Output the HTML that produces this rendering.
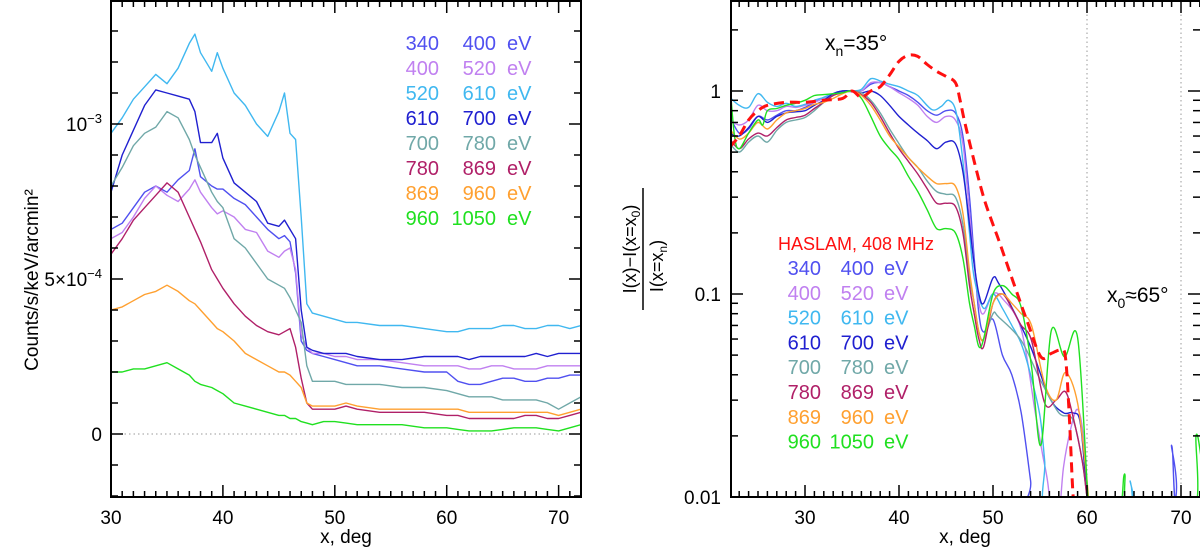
<!DOCTYPE html>
<html><head><meta charset="utf-8">
<style>
html,body{margin:0;padding:0;background:#fff;width:1200px;height:551px;overflow:hidden;position:relative;}
svg{display:block;font-family:"Liberation Sans",sans-serif;}
</style></head>
<body>
<svg id="fig" width="1200" height="551" viewBox="0 0 1200 551" style="position:absolute;left:0;top:0;overflow:hidden;">
<defs>
<clipPath id="clipL"><rect x="111" y="1" width="470" height="496"/></clipPath>
<clipPath id="clipR"><rect x="731" y="1" width="469" height="496"/></clipPath>
</defs>
<g id="left"></g>
<g id="right"></g>
<g>
  <text x="825" y="50" font-size="21" fill="#000">x<tspan font-size="14" dy="6">n</tspan><tspan dy="-6">=35°</tspan></text>
</g>
<g>
  <text x="1107" y="302" font-size="21" fill="#000">x<tspan font-size="14" dy="6">0</tspan><tspan dy="-6">≈65°</tspan></text>
</g>
<g>
  <text transform="translate(636,249) rotate(-90)" text-anchor="middle" font-size="18" fill="#000">I(x)−I(x=x<tspan font-size="12" dy="4">0</tspan><tspan dy="-4">)</tspan></text>
  <line x1="643" y1="188" x2="643" y2="310" stroke="#000" stroke-width="1.5"/>
  <text transform="translate(663,266) rotate(-90)" text-anchor="middle" font-size="18" fill="#000">I(x=x<tspan font-size="12" dy="4">n</tspan><tspan dy="-4">)</tspan></text>
</g>
</svg>
<script>
// ---------- LEFT PANEL DATA (units of 1e-4 counts/s/keV/arcmin^2) ----------
const bandLabels = [["340","400"],["400","520"],["520","610"],["610","700"],["700","780"],["780","869"],["869","960"],["960","1050"]];
const bandColors = ["#5050f0","#c080f0","#40b8f0","#2020d0","#70a8a8","#b02068","#ffa030","#20e020"];
const leftX = [30,31,32,33,34,35,36,37,37.5,38,39,39.5,40,41,42,43,44,45,45.5,46,46.5,47,47.5,48,49,50,51,52,54,56,58,60,61,62,63,64,65,66,67,68,69,70,71,72];
const L340 = [6.6,6.8,7.3,7.8,8.0,7.8,8.2,8.5,9.2,8.3,8.0,7.9,7.9,7.6,7.4,7.0,6.6,6.3,6.4,6.2,5.2,3.0,2.7,2.6,2.5,2.4,2.3,2.2,2.2,2.1,2.0,2.0,1.7,1.6,1.6,1.7,1.8,1.8,1.7,1.7,1.8,1.8,1.9,1.9];
const L400 = [6.3,6.5,7.0,7.6,8.0,7.7,7.5,7.9,8.2,7.8,7.3,7.1,7.2,7.0,6.6,6.5,5.9,5.7,5.9,6.0,5.3,3.2,2.8,2.6,2.6,2.5,2.5,2.4,2.4,2.3,2.2,2.2,2.2,2.1,2.1,2.2,2.2,2.1,2.1,2.1,2.2,2.2,2.2,2.2];
const L520 = [9.7,10.2,10.8,11.2,11.6,11.3,11.8,12.6,12.9,12.3,11.7,12.3,11.8,11.0,10.6,10.0,9.6,10.4,11.0,9.7,9.5,7.0,4.2,3.9,3.8,3.7,3.6,3.6,3.5,3.5,3.4,3.3,3.3,3.4,3.4,3.4,3.5,3.5,3.4,3.4,3.5,3.5,3.4,3.5];
const L610 = [7.8,9.0,9.8,10.6,11.1,11.0,10.9,10.8,10.4,9.4,9.4,9.7,8.9,8.1,7.8,7.5,6.8,6.7,6.9,6.6,6.3,4.0,2.8,2.7,2.6,2.6,2.6,2.5,2.4,2.4,2.5,2.5,2.5,2.4,2.5,2.5,2.5,2.5,2.5,2.6,2.5,2.6,2.6,2.6];
const L700 = [8.0,8.6,9.3,9.7,9.9,10.4,10.2,9.5,9.0,8.6,7.8,7.5,7.3,6.3,6.0,5.5,5.0,4.8,4.7,4.4,4.0,3.6,2.2,1.7,1.7,1.7,1.6,1.6,1.6,1.5,1.5,1.4,1.3,1.2,1.2,1.2,1.1,1.1,1.1,1.1,1.0,0.8,1.0,1.2];
const L780 = [5.8,6.3,6.9,7.3,7.7,8.1,7.8,7.0,6.6,6.2,5.3,5.0,4.7,4.2,3.8,3.5,3.3,3.2,3.3,3.4,2.8,1.8,1.0,0.8,0.8,0.8,0.9,0.8,0.7,0.7,0.7,0.6,0.6,0.5,0.5,0.5,0.5,0.5,0.6,0.6,0.5,0.5,0.6,0.7];
const L869 = [4.0,4.1,4.3,4.5,4.6,4.8,4.6,4.3,4.2,4.0,3.6,3.4,3.3,3.0,2.6,2.4,2.2,2.0,2.0,1.9,1.7,1.5,1.0,0.9,0.9,0.9,1.0,0.9,0.8,0.8,0.8,0.8,0.8,0.7,0.7,0.7,0.7,0.7,0.7,0.7,0.7,0.6,0.7,0.8];
const L960 = [2.0,2.0,2.1,2.1,2.2,2.3,2.1,1.9,1.7,1.6,1.5,1.4,1.3,1.0,0.9,0.8,0.7,0.6,0.6,0.5,0.5,0.4,0.35,0.3,0.4,0.4,0.35,0.3,0.3,0.3,0.2,0.2,0.15,0.1,0.1,0.1,0.15,0.2,0.2,0.2,0.15,0.1,0.2,0.3];
const leftXTicks = [30,40,50,60,70];
const leftYTickVals = [0,5,10];
const leftYTickText = ["0","5×10","10"];
const leftYTickExp = ["","−4","−3"];

// ---------- RIGHT PANEL DATA (normalised ratio, log scale) ----------
const R340x = [22,23,24,25,26,27,28,29,30,31,32,33,34,35,36,37,38,39,40,41,42,43,44,45,46,46.8,47.5,48,48.5,49,50,51,52,53,54,54.5,68.3,69,69.6,71.8,72.2];
const R340y = [0.75,0.62,0.65,0.75,0.72,0.76,0.8,0.8,0.83,0.88,0.93,0.97,1.0,1.0,1.0,1.08,1.1,1.05,1.0,0.95,0.88,0.8,0.76,0.8,0.78,0.6,0.3,0.15,0.08,0.065,0.075,0.05,0.04,0.026,0.012,0.004,0.004,0.018,0.004,0.004,0.02];
const R400x = [22,23,24,25,26,27,28,29,30,31,32,33,34,35,36,37,38,39,40,41,42,43,44,45,46,46.8,47.5,48,48.5,49,50,51,53,54.5,55.3,55.8,56.3,57,57.5,58.3,59,59.6,60.2];
const R400y = [0.72,0.68,0.72,0.85,0.8,0.8,0.84,0.83,0.85,0.88,0.92,0.97,1.0,0.99,1.0,1.1,1.1,1.05,0.98,0.92,0.85,0.75,0.7,0.75,0.72,0.55,0.25,0.14,0.09,0.08,0.1,0.095,0.067,0.026,0.016,0.012,0.004,0.008,0.014,0.022,0.027,0.02,0.004];
const R520x = [22,23,24,25,26,27,28,29,30,31,32,33,35,36,37,38,39,40,41,42,43.5,44.5,45.3,46.1,46.8,47.5,48,49,50,51,52,53,54,55,55.5,56,64.3,64.6,65];
const R520y = [0.93,0.85,0.83,0.97,0.88,0.84,0.87,0.84,0.86,0.9,0.93,0.97,1.0,1.02,1.15,1.12,1.08,1.05,1.0,0.95,0.81,0.84,0.9,0.78,0.45,0.2,0.12,0.085,0.1,0.085,0.07,0.057,0.04,0.025,0.015,0.004,0.004,0.012,0.004];
const R610x = [22,23,24,25,26,27,28,29,30,31,32,33,34,35,36,37,38,39,40,41,42,43,44,45,46,46.8,47.5,48,48.5,49,50,50.6,52,54,56,57.5,58.5,59.3,60,60.3];
const R610y = [0.62,0.6,0.66,0.75,0.7,0.75,0.78,0.79,0.8,0.85,0.9,0.97,1.0,1.0,0.98,1.0,0.95,0.85,0.75,0.68,0.62,0.57,0.52,0.56,0.55,0.4,0.22,0.14,0.1,0.09,0.12,0.113,0.086,0.055,0.031,0.026,0.026,0.023,0.01,0.004];
const R700x = [22,23,24,25,26,27,28,29,30,31,32,33,34,35,36,37,38,39,40,41,42,43,44,45,46,46.8,47.5,48,48.5,49,50,50.6,53,55,57,58.5,59.5,60,60.3];
const R700y = [0.55,0.5,0.56,0.6,0.56,0.64,0.7,0.72,0.74,0.8,0.88,0.95,0.98,1.0,0.98,0.9,0.78,0.65,0.55,0.47,0.42,0.36,0.32,0.31,0.3,0.22,0.12,0.09,0.065,0.06,0.08,0.077,0.059,0.038,0.026,0.024,0.015,0.01,0.004];
const R780x = [22,23,24,25,26,27,28,29,30,31,32,33,34,35,36,37,38,39,40,41,42,43,44,45,46,46.8,47.5,48,48.5,49,50,51,52,53,54.1,55.5,56.7,57.7,58.5,59.5,60,60.3];
const R780y = [0.58,0.52,0.58,0.62,0.6,0.66,0.72,0.74,0.76,0.82,0.88,0.95,0.98,1.0,0.96,0.88,0.75,0.62,0.52,0.45,0.39,0.33,0.28,0.28,0.27,0.2,0.11,0.08,0.06,0.055,0.09,0.1,0.085,0.07,0.059,0.029,0.03,0.033,0.025,0.015,0.01,0.004];
const R869x = [22,23,24,25,26,27,28,29,30,31,32,33,34,35,36,37,38,39,40,41,42,43,44,45,46,46.8,47.5,48,48.5,49,50,51,52,53,54.1,55.5,56.7,57.7,59,60,60.3];
const R869y = [0.65,0.58,0.62,0.7,0.65,0.72,0.78,0.8,0.82,0.86,0.88,0.92,0.97,1.0,0.95,0.85,0.72,0.6,0.53,0.47,0.42,0.38,0.35,0.35,0.34,0.25,0.13,0.09,0.065,0.06,0.09,0.1,0.09,0.08,0.07,0.036,0.03,0.041,0.029,0.012,0.004];
const R960x = [22,22.5,23,24,25,25.5,26,27,28,29,30,31,32,33,34,35,36,37,38,39,40,41,42,43,44,45,46,46.8,47.5,48,48.5,49,50,51,52,53,54.1,55.1,56.2,57.6,59,60.1,60.4,63.3,64,64.7,71.2,71.6,72.2];
const R960y = [1.1,0.6,0.52,0.62,0.72,0.68,0.8,0.82,0.85,0.87,0.9,0.95,0.96,0.97,0.98,1.0,0.92,0.75,0.6,0.52,0.46,0.38,0.32,0.26,0.21,0.21,0.2,0.15,0.09,0.07,0.055,0.06,0.1,0.11,0.1,0.086,0.044,0.018,0.066,0.049,0.061,0.01,0.004,0.004,0.013,0.004,0.004,0.02,0.015];
const HASx = [22,23,24,25,26,28,30,32,34,35,36,37,38,39,40,41,42,43,44,45,46,46.5,47,48,49,50,50.6,51.5,52.7,53.7,55.1,56.2,57.2,57.7,58.1,58.5,58.8];
const HASy = [0.53,0.6,0.72,0.8,0.85,0.88,0.88,0.9,0.92,1.0,0.93,1.0,1.05,1.2,1.4,1.5,1.48,1.35,1.25,1.18,1.1,0.9,0.7,0.45,0.3,0.22,0.185,0.14,0.097,0.072,0.049,0.051,0.053,0.049,0.026,0.0105,0.006];
const rightXTicks = [30,40,50,60,70];
const rightYMajor = [0.01,0.1,1];
const rightYMajorText = ["0.01","0.1","1"];

// ---------- helpers ----------
const NS = "http://www.w3.org/2000/svg";
function mk(tag, attrs, parent){ const e=document.createElementNS(NS,tag); for(const k in attrs) e.setAttribute(k,attrs[k]); parent.appendChild(e); return e; }
const gL = document.getElementById('left'), gR = document.getElementById('right');

const LX0=111, LX1=581, LY0=1, LY1=497;
const lx = d => LX0 + (d-30)*(LX1-LX0)/42;
const ly = v => 434 - v*31;
const RX0=731, RX1=1200, RY0=1, RY1=497;
const rx = d => 805 + (d-30)*9.4;
const ry = v => 91 - 203*Math.log10(v);

// ======== LEFT PANEL ========
const zl = mk('line',{x1:LX0,x2:LX1,y1:ly(0),y2:ly(0),stroke:'#999','stroke-width':1,'stroke-dasharray':'1.5,3'},gL);


const lseries = [L340,L400,L520,L610,L700,L780,L869,L960];
const lc = mk('g',{'clip-path':'url(#clipL)'},gL);
lseries.forEach((s,i)=>{
  const p = mk('polyline',{points:s.map((v,j)=>lx(leftX[j]).toFixed(1)+','+ly(v).toFixed(1)).join(' '),fill:'none',stroke:bandColors[i],'stroke-width':1.4,'stroke-linejoin':'round'},lc);
  
  
});
const fl = mk('rect',{x:LX0,y:LY0,width:LX1-LX0,height:LY1-LY0,fill:'none',stroke:'#000','stroke-width':2},gL);


for(let d=31; d<=72; d++){
  const major = leftXTicks.includes(d);
  const len = major?12:6;
  mk('line',{x1:lx(d),x2:lx(d),y1:LY1,y2:LY1-len,stroke:'#000','stroke-width':1.5},gL);
  mk('line',{x1:lx(d),x2:lx(d),y1:LY0,y2:LY0+len,stroke:'#000','stroke-width':1.5},gL);
}
leftXTicks.forEach(d=>{
  const t = mk('text',{x:lx(d),y:524,'text-anchor':'middle','font-size':19,fill:'#000'},gL);
  t.textContent = d;
  
  
});
for(let v=-2; v<=14; v++){
  const y = ly(v); if(y<LY0+1||y>LY1-1) continue;
  const len = (v%5===0)?12:7;
  mk('line',{x1:LX0,x2:LX0+len,y1:y,y2:y,stroke:'#000','stroke-width':1.5},gL);
  mk('line',{x1:LX1,x2:LX1-len,y1:y,y2:y,stroke:'#000','stroke-width':1.5},gL);
}
leftYTickVals.forEach((v,i)=>{
  const t = mk('text',{x:102,y:ly(v)+7,'text-anchor':'end','font-size':19,fill:'#000'},gL);
  
  
  const a = document.createElementNS(NS,'tspan'); a.textContent = leftYTickText[i]; t.appendChild(a);
  if(leftYTickExp[i]){ const b=document.createElementNS(NS,'tspan'); b.setAttribute('dy','-8'); b.setAttribute('font-size','13'); b.textContent=leftYTickExp[i]; t.appendChild(b); }
});
const yt = mk('text',{x:0,y:0,transform:'translate(38,280) rotate(-90)','text-anchor':'middle','font-size':19,fill:'#000'},gL);
yt.textContent = 'Counts/s/keV/arcmin²';


const xt = mk('text',{x:346,y:543,'text-anchor':'middle','font-size':19,fill:'#000'},gL);
xt.textContent = 'x, deg';


bandLabels.forEach((b,i)=>{
  const y = 50 + i*25;
  const g = mk('g',{fill:bandColors[i],'font-size':20},gL);
  
  
  mk('text',{x:439,y:y,'text-anchor':'end'},g).textContent=b[0];
  mk('text',{x:496,y:y,'text-anchor':'end'},g).textContent=b[1];
  mk('text',{x:507,y:y},g).textContent='eV';
});

// ======== RIGHT PANEL ========
[60,70].forEach(d=>{
  const l = mk('line',{x1:rx(d),x2:rx(d),y1:RY0,y2:RY1,stroke:'#999','stroke-width':1,'stroke-dasharray':'1.5,3'},gR);
  
  
});
function smoothPath(xs, ys){
  const P = xs.map((d,i)=>[rx(d), ry(Math.max(ys[i],0.008))]);
  let s = 'M'+P[0][0].toFixed(1)+','+P[0][1].toFixed(1);
  for(let i=0;i<P.length-1;i++){
    const p0=P[Math.max(i-1,0)],p1=P[i],p2=P[i+1],p3=P[Math.min(i+2,P.length-1)];
    const c1=[p1[0]+(p2[0]-p0[0])/6, Math.min(p1[1]+(p2[1]-p0[1])/6,520)];
    const c2=[p2[0]-(p3[0]-p1[0])/6, Math.min(p2[1]-(p3[1]-p1[1])/6,520)];
    s+=' C'+c1[0].toFixed(1)+','+c1[1].toFixed(1)+' '+c2[0].toFixed(1)+','+c2[1].toFixed(1)+' '+p2[0].toFixed(1)+','+p2[1].toFixed(1);
  }
  return s;
}
const rc = mk('g',{'clip-path':'url(#clipR)'},gR);
const rseries = [[R340x,R340y],[R400x,R400y],[R520x,R520y],[R610x,R610y],[R700x,R700y],[R780x,R780y],[R869x,R869y],[R960x,R960y]];
rseries.forEach((s,i)=>{
  const p = mk('path',{d:smoothPath(s[0],s[1]),fill:'none',stroke:bandColors[i],'stroke-width':1.4},rc);
  
  
});
const hp = mk('path',{d:smoothPath(HASx,HASy),fill:'none',stroke:'#ff1010','stroke-width':3,'stroke-dasharray':'10,6'},rc);


const fr = mk('rect',{x:RX0,y:RY0,width:RX1-RX0+2,height:RY1-RY0,fill:'none',stroke:'#000','stroke-width':2},gR);


for(let d=23; d<=72; d++){
  const major = rightXTicks.includes(d);
  const len = major?12:6;
  mk('line',{x1:rx(d),x2:rx(d),y1:RY1,y2:RY1-len,stroke:'#000','stroke-width':1.5},gR);
  mk('line',{x1:rx(d),x2:rx(d),y1:RY0,y2:RY0+len,stroke:'#000','stroke-width':1.5},gR);
}
rightXTicks.forEach(d=>{
  const t = mk('text',{x:rx(d),y:524,'text-anchor':'middle','font-size':19,fill:'#000'},gR);
  t.textContent = d;
  
  
});
[0.01,0.1,1].forEach(base=>{
  for(let m=1;m<=9;m++){
    const v=base*m, y=ry(v); if(y<RY0+1||y>RY1-1) continue;
    const len=(m===1)?12:7;
    mk('line',{x1:RX0,x2:RX0+len,y1:y,y2:y,stroke:'#000','stroke-width':1.5},gR);
    mk('line',{x1:RX1,x2:RX1-len,y1:y,y2:y,stroke:'#000','stroke-width':1.5},gR);
  }
});
rightYMajor.forEach((v,i)=>{
  const t = mk('text',{x:721,y:ry(v)+7,'text-anchor':'end','font-size':19,fill:'#000'},gR);
  t.textContent = rightYMajorText[i];
  
  
});
const xt2 = mk('text',{x:965,y:543,'text-anchor':'middle','font-size':19,fill:'#000'},gR);
xt2.textContent = 'x, deg';


const hl = mk('text',{x:778,y:250,'font-size':18,fill:'#ff1010'},gR);
hl.textContent = 'HASLAM, 408 MHz';


bandLabels.forEach((b,i)=>{
  const y = 275 + i*24.8;
  const g = mk('g',{fill:bandColors[i],'font-size':20},gR);
  
  
  mk('text',{x:821,y:y,'text-anchor':'end'},g).textContent=b[0];
  mk('text',{x:874,y:y,'text-anchor':'end'},g).textContent=b[1];
  mk('text',{x:884,y:y},g).textContent='eV';
});
</script>
</body></html>
